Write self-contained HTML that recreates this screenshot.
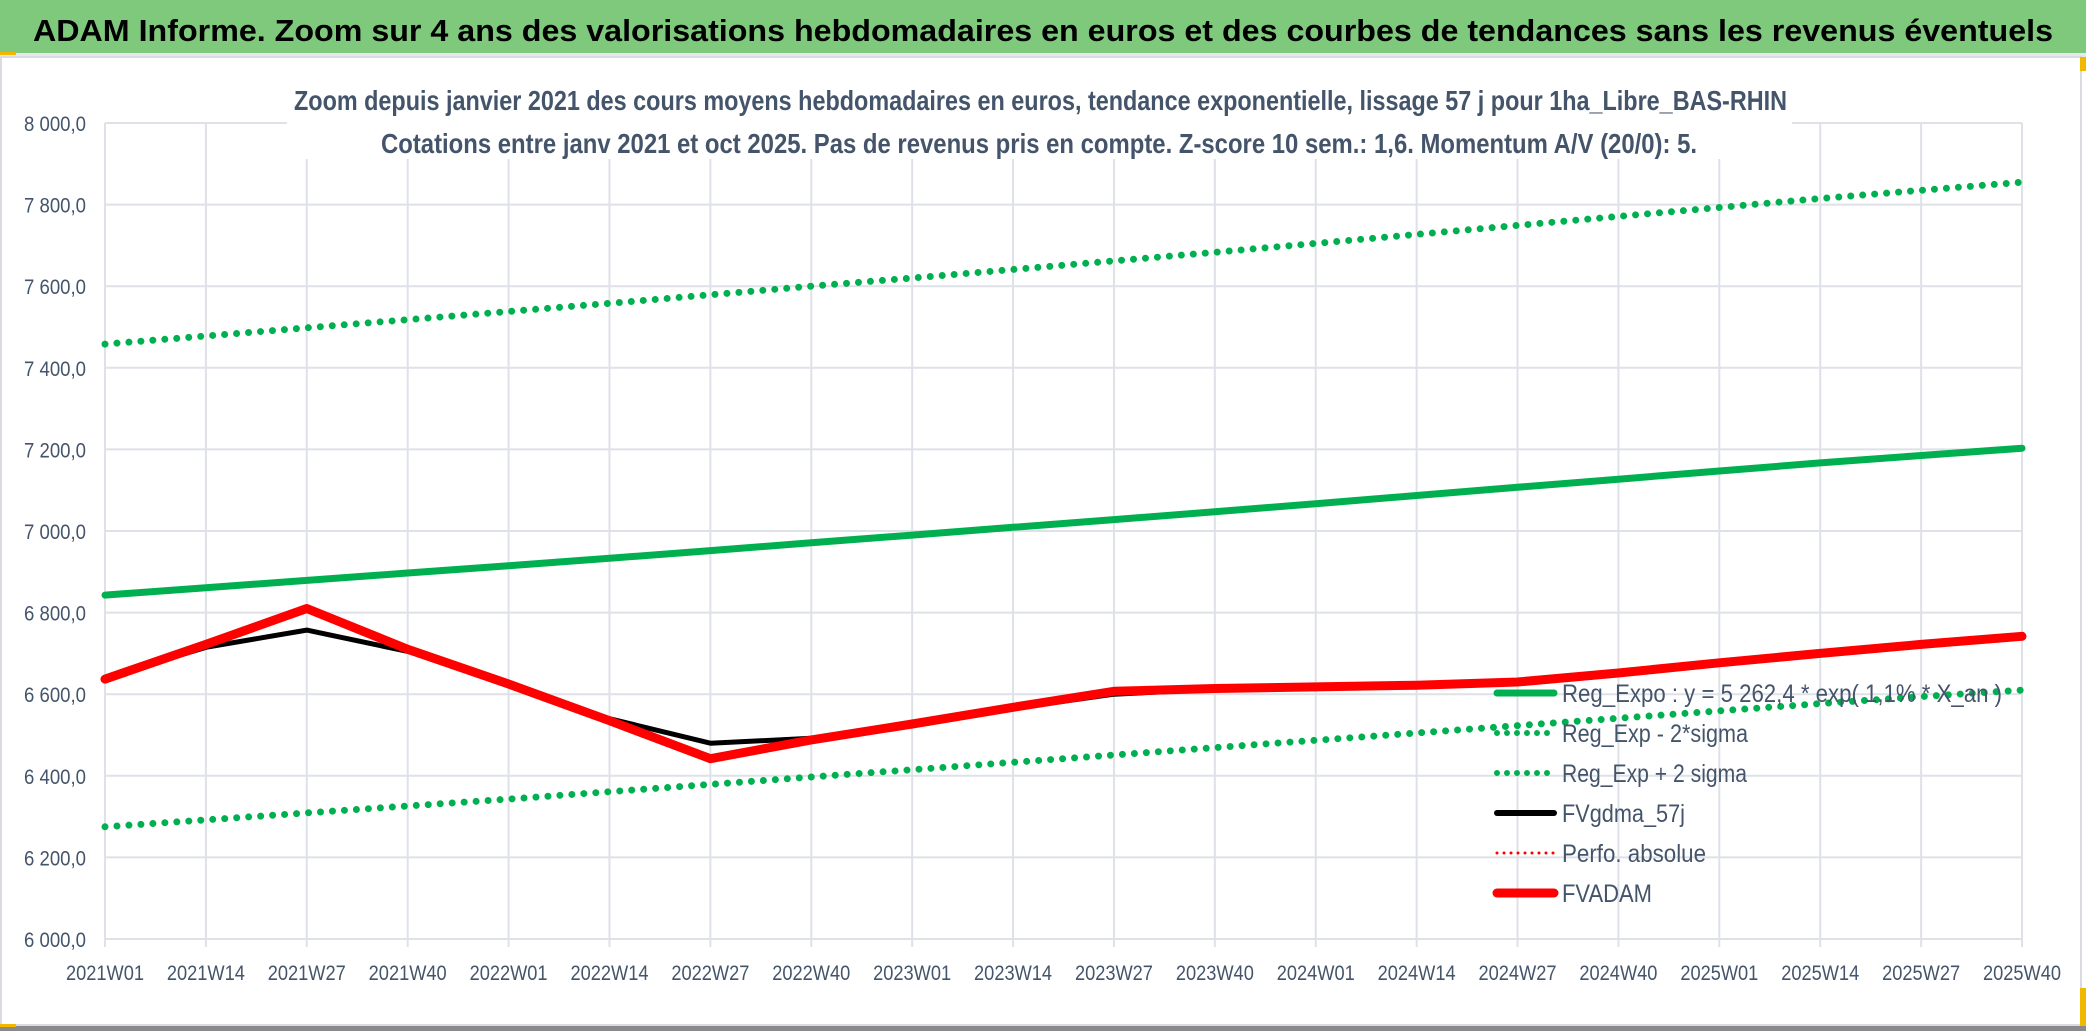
<!DOCTYPE html>
<html><head><meta charset="utf-8">
<style>
html,body{margin:0;padding:0;background:#fff;}
svg{display:block;font-family:"Liberation Sans",sans-serif;}
</style></head>
<body>
<svg id="chart" width="2086" height="1031" viewBox="0 0 2086 1031" xmlns="http://www.w3.org/2000/svg">
<rect x="0" y="0" width="2086" height="1031" fill="#fff"/>
<rect x="0" y="0" width="2086" height="53" fill="#7fc97d"/>
<rect x="0" y="53" width="2086" height="4" fill="#e6e8ee"/>
<rect x="0" y="52" width="16" height="3" fill="#f2b800"/>
<text x="33" y="41" font-size="31" font-weight="bold" fill="#000" textLength="2020" lengthAdjust="spacingAndGlyphs">ADAM Informe. Zoom sur 4 ans des valorisations hebdomadaires en euros et des courbes de tendances sans les revenus éventuels</text>
<rect x="1" y="57" width="2080" height="968" fill="none" stroke="#d9dbe0" stroke-width="2"/>
<rect x="2080" y="57" width="6" height="14" fill="#f2b800"/>
<rect x="2080" y="988" width="6" height="43" fill="#f2b800"/>
<rect x="0" y="1026" width="2086" height="5" fill="#8a8a8a"/>
<rect x="0" y="1024" width="16" height="3" fill="#f2b800"/>
<g id="grid"></g>
<g id="axes"></g>
<rect x="287" y="82" width="1505" height="77" fill="#fff"/>
<text x="294" y="110" font-size="28" font-weight="bold" fill="#44546a" textLength="1493" lengthAdjust="spacingAndGlyphs">Zoom depuis janvier 2021 des cours moyens hebdomadaires en euros, tendance exponentielle, lissage 57 j pour 1ha_Libre_BAS-RHIN</text>
<text x="381" y="153" font-size="28" font-weight="bold" fill="#44546a" textLength="1316" lengthAdjust="spacingAndGlyphs">Cotations entre janv 2021 et oct 2025. Pas de revenus pris en compte. Z-score 10 sem.: 1,6. Momentum A/V (20/0): 5.</text>
<g id="series"></g>
<g id="legend"></g>
</svg>
<script>
const categories = ["2021W01","2021W14","2021W27","2021W40","2022W01","2022W14","2022W27","2022W40","2023W01","2023W14","2023W27","2023W40","2024W01","2024W14","2024W27","2024W40","2025W01","2025W14","2025W27","2025W40"];
const yTicks = [6000,6200,6400,6600,6800,7000,7200,7400,7600,7800,8000];
const yTickLabels = ["6 000,0","6 200,0","6 400,0","6 600,0","6 800,0","7 000,0","7 200,0","7 400,0","7 600,0","7 800,0","8 000,0"];
const regExpo = [6843,6861,6879,6897,6915,6933,6952,6971,6990,7009,7028,7047,7067,7087,7107,7127,7147,7167,7185,7203];
const regMinus = [6275,6292,6309,6326,6343,6361,6379,6397,6415,6433,6451,6469,6487,6505,6523,6541,6559,6577,6594,6610];
const regPlus = [7458,7478,7498,7518,7538,7558,7579,7600,7620,7641,7662,7683,7705,7727,7749,7771,7793,7815,7835,7855];
const fvgdma = [6640,6715,6757,6705,6625,6540,6480,6492,6527,6565,6600,6612,6617,6620,6628,6650,6675,6700,6722,6740];
const fvadam = [6637,6722,6810,6710,6625,6535,6442,6488,6527,6568,6607,6614,6618,6622,6630,6652,6677,6700,6722,6742];
const legendLabels = ["Reg_Expo : y = 5 262,4 * exp( 1,1% * X_an )","Reg_Exp - 2*sigma","Reg_Exp + 2 sigma","FVgdma_57j","Perfo. absolue","FVADAM"];

const NS="http://www.w3.org/2000/svg";
const X0=105, X1=2022, Y0=939, Y1=123, YMIN=6000, YMAX=8000;
function xPos(i){return X0+(X1-X0)*i/(categories.length-1);}
function yPos(v){return Y0-(v-YMIN)/(YMAX-YMIN)*(Y0-Y1);}
function mk(tag,attrs,parent){const e=document.createElementNS(NS,tag);for(const k in attrs)e.setAttribute(k,attrs[k]);parent.appendChild(e);return e;}

const grid=document.getElementById('grid'), axes=document.getElementById('axes');
yTicks.forEach((v,i)=>{
  const l=mk('line',{x1:X0,x2:X1,y1:yPos(v),y2:yPos(v),stroke:'#dfe1e8','stroke-width':2},grid);
  
  
  const t=mk('text',{x:86,y:yPos(v)+8,'text-anchor':'end','font-size':21,fill:'#44546a',textLength:62,lengthAdjust:'spacingAndGlyphs'},axes);
  t.textContent=yTickLabels[i];
  
  
});
categories.forEach((c,i)=>{
  const l=mk('line',{x1:xPos(i),x2:xPos(i),y1:Y1,y2:Y0+8,stroke:'#dfe1e8','stroke-width':2},grid);
  
  
  const t=mk('text',{x:xPos(i),y:980,'text-anchor':'middle','font-size':21,fill:'#44546a',textLength:78,lengthAdjust:'spacingAndGlyphs'},axes);
  t.textContent=c;
  
  
});

const series=document.getElementById('series');
function pts(arr){return arr.map((v,i)=>xPos(i).toFixed(1)+','+yPos(v).toFixed(1)).join(' ');}
function line(arr,color,w,dash,name){
  const a={points:pts(arr),fill:'none',stroke:color,'stroke-width':w,'stroke-linejoin':'round','stroke-linecap':'round'};
  if(dash)a['stroke-dasharray']=dash;
  const p=mk('polyline',a,series);
  
  
}
line(regPlus,'#00b050',7,'0 12','reg-exp-plus-2-sigma-line');
line(regMinus,'#00b050',7,'0 12','reg-exp-minus-2-sigma-line');
line(regExpo,'#00b050',7,null,'reg-expo-line');
line(fvgdma,'#000',5,null,'fvgdma-57j-line');
line(fvadam,'#ff0000',9,null,'fvadam-line');

const legend=document.getElementById('legend');
const lstyles=[['#00b050',7,null],['#00b050',6,'0 10'],['#00b050',6,'0 10'],['#000',6,null],['#ff0000',3,'0 7'],['#ff0000',9,null]];
const lwidths=[440,186,185,123,144,90];
legendLabels.forEach((lab,i)=>{
  const y=693+i*40;
  const a={x1:1497,x2:1554,y1:y,y2:y,stroke:lstyles[i][0],'stroke-width':lstyles[i][1],'stroke-linecap':'round'};
  if(lstyles[i][2])a['stroke-dasharray']=lstyles[i][2];
  const l=mk('line',a,legend);
  
  
  const t=mk('text',{x:1562,y:y+9,'font-size':25,fill:'#44546a',textLength:lwidths[i],lengthAdjust:'spacingAndGlyphs'},legend);
  t.textContent=lab;
  
  
});
</script>
</body></html>
